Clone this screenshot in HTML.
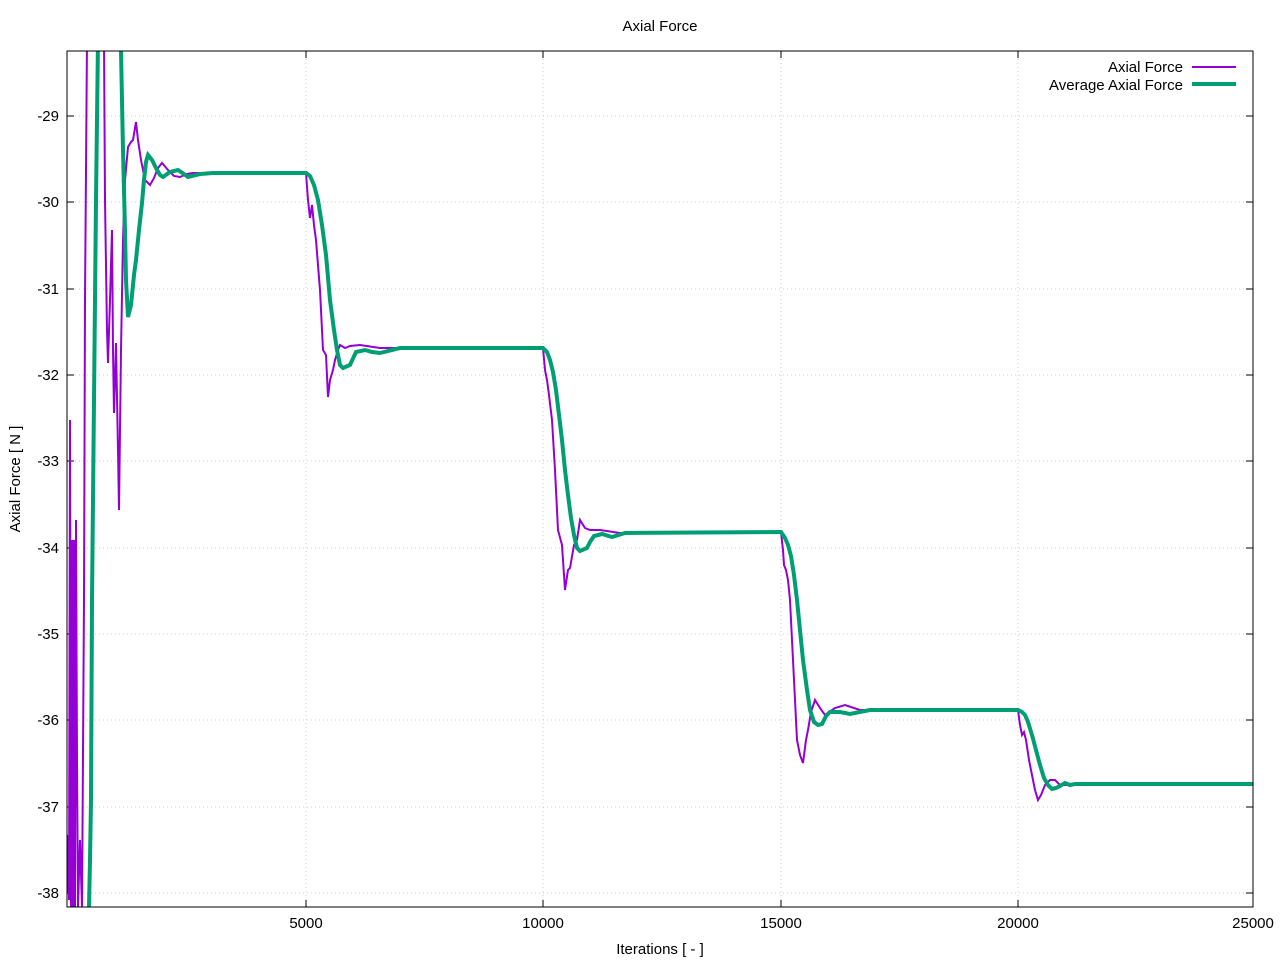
<!DOCTYPE html>
<html><head><meta charset="utf-8"><style>
body{margin:0;background:#fff}
text{font-family:"Liberation Sans",sans-serif;font-size:15px;fill:#000}
</style></head><body>
<svg width="1280" height="960" viewBox="0 0 1280 960" xmlns="http://www.w3.org/2000/svg">
<rect width="1280" height="960" fill="#fff"/>
<g stroke="#ccc" stroke-width="1" stroke-dasharray="1,3">
<line x1="306" y1="51" x2="306" y2="907"/><line x1="543" y1="51" x2="543" y2="907"/>
<line x1="781" y1="51" x2="781" y2="907"/><line x1="1018" y1="51" x2="1018" y2="907"/>
<line x1="67" y1="116" x2="1253" y2="116"/><line x1="67" y1="202" x2="1253" y2="202"/>
<line x1="67" y1="289" x2="1253" y2="289"/><line x1="67" y1="375" x2="1253" y2="375"/>
<line x1="67" y1="461" x2="1253" y2="461"/><line x1="67" y1="548" x2="1253" y2="548"/>
<line x1="67" y1="634" x2="1253" y2="634"/><line x1="67" y1="720" x2="1253" y2="720"/>
<line x1="67" y1="807" x2="1253" y2="807"/><line x1="67" y1="893" x2="1253" y2="893"/>
</g>
<g stroke="#000" stroke-width="1">
<line x1="306" y1="907" x2="306" y2="900"/><line x1="543" y1="907" x2="543" y2="900"/><line x1="781" y1="907" x2="781" y2="900"/><line x1="1018" y1="907" x2="1018" y2="900"/>
<line x1="306" y1="51" x2="306" y2="58"/><line x1="543" y1="51" x2="543" y2="58"/><line x1="781" y1="51" x2="781" y2="58"/><line x1="1018" y1="51" x2="1018" y2="58"/>
<line x1="67" y1="116" x2="74" y2="116"/><line x1="67" y1="202" x2="74" y2="202"/><line x1="67" y1="289" x2="74" y2="289"/><line x1="67" y1="375" x2="74" y2="375"/><line x1="67" y1="461" x2="74" y2="461"/><line x1="67" y1="548" x2="74" y2="548"/><line x1="67" y1="634" x2="74" y2="634"/><line x1="67" y1="720" x2="74" y2="720"/><line x1="67" y1="807" x2="74" y2="807"/><line x1="67" y1="893" x2="74" y2="893"/>
<line x1="1253" y1="116" x2="1246" y2="116"/><line x1="1253" y1="202" x2="1246" y2="202"/><line x1="1253" y1="289" x2="1246" y2="289"/><line x1="1253" y1="375" x2="1246" y2="375"/><line x1="1253" y1="461" x2="1246" y2="461"/><line x1="1253" y1="548" x2="1246" y2="548"/><line x1="1253" y1="634" x2="1246" y2="634"/><line x1="1253" y1="720" x2="1246" y2="720"/><line x1="1253" y1="807" x2="1246" y2="807"/><line x1="1253" y1="893" x2="1246" y2="893"/>
</g>
<svg x="67" y="51" width="1186" height="856" viewBox="67 51 1186 856" overflow="hidden">
<polyline fill="none" stroke="#9400d3" stroke-width="2" points="67,893 68,835 69,900 70,420 71,907 72,540 73,907 74,540 75,907 76,520 77,760 78,907 80,840 82,907 84,600 85,300 87,40 104,40 105,200 107,330 108,363 110,300 112,230 113,350 114,413 115,380 116,343 118,450 119,510 121,350 123,240 125,180 128,147 131,142 133,140 136,122 138,140 141,160 145,180 150,185 154,178 158,168 162,163 168,170 174,176 180,177 187,174 193,173 306,173 308,200 310,218 312,205 314,225 316,240 318,265 320,290 323,350 326,355 328,397 330,380 333,370 335,360 338,350 340,345 345,348 350,346 360,345 380,348 543,348 545,370 547,380 549,395 552,420 555,470 558,530 562,545 565,590 568,570 570,568 574,545 577,540 580,520 585,528 590,530 600,530 620,533 781,532 783,550 784,565 786,570 788,580 790,600 792,640 795,700 797,740 800,755 803,763 806,740 808,730 811,712 815,700 820,708 825,715 835,708 845,705 860,710 1018,710 1020,725 1022,735 1024,732 1026,740 1029,760 1032,775 1035,790 1038,800 1041,795 1045,785 1050,780 1055,780 1060,785 1068,785 1080,783 1100,784 1253,784"/>
<polyline fill="none" stroke="#009e73" stroke-width="4" points="89,907 90,860 91,800 92,600 94,400 96,200 98,40 120,40 121,51 123,150 125,230 126,280 128,317 131,305 134,275 136,260 139,230 142,203 144,180 146,162 148,155 152,160 156,168 160,175 163,177 170,172 178,170 184,174 188,177 200,174 213,173 306,173 310,176 314,185 318,200 322,225 326,255 330,300 334,330 337,350 340,365 343,368 350,365 356,352 365,350 372,352 380,353 400,348 543,348 547,352 550,360 553,372 556,390 559,415 562,440 565,470 568,495 571,518 574,535 577,548 580,551 587,548 590,542 594,536 602,534 612,537 625,533 781,532 785,538 788,545 791,556 794,575 797,600 800,630 803,660 807,690 810,710 814,722 818,725 822,724 826,716 830,712 840,712 850,714 870,710 1018,710 1022,712 1025,715 1028,722 1032,735 1036,750 1040,765 1044,778 1048,785 1052,789 1056,788 1060,786 1065,783 1070,785 1075,784 1253,784"/>
</svg>
<rect x="67" y="51" width="1186" height="856" fill="none" stroke="#000" stroke-width="1"/>
<g text-anchor="end">
<text x="59" y="121">-29</text><text x="59" y="207">-30</text><text x="59" y="294">-31</text><text x="59" y="380">-32</text><text x="59" y="466">-33</text><text x="59" y="553">-34</text><text x="59" y="639">-35</text><text x="59" y="725">-36</text><text x="59" y="812">-37</text><text x="59" y="898">-38</text>
<text x="1183" y="72">Axial Force</text><text x="1183" y="90">Average Axial Force</text>
</g>
<g text-anchor="middle">
<text x="306" y="928">5000</text><text x="543" y="928">10000</text><text x="781" y="928">15000</text><text x="1018" y="928">20000</text><text x="1253" y="928">25000</text>
<text x="660" y="954">Iterations [ - ]</text>
<text x="660" y="31">Axial Force</text>
<text transform="translate(20,479) rotate(-90)">Axial Force [ N ]</text>
</g>
<line x1="1192" y1="67" x2="1236" y2="67" stroke="#9400d3" stroke-width="2"/>
<line x1="1192" y1="84" x2="1236" y2="84" stroke="#009e73" stroke-width="4"/>
</svg>
</body></html>
